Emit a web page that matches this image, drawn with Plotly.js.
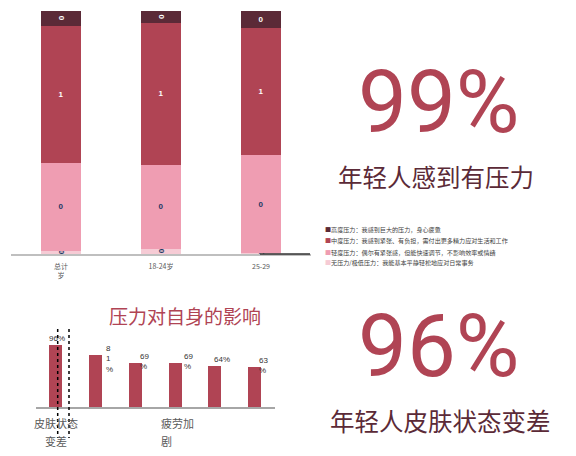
<!DOCTYPE html>
<html>
<head>
<meta charset="utf-8">
<script src="https://cdn.plot.ly/plotly-3.0.1.min.js"></script>
<style>html,body{margin:0;padding:0;background:#fff;}#chart{width:576px;height:456px;}</style>
</head>
<body>
<div id="chart"></div>
<script>
// ---- data ----
const ageGroups = ['总计<br>岁', '18-24岁', '25-29'];
const highStress = [0.060, 0.049, 0.071];
const midStress  = [0.564, 0.583, 0.523];
const lowStress  = [0.362, 0.346, 0.401];
const noStress   = [0.014, 0.022, 0.005];
const stressNames = [
  '高度压力：我感到巨大的压力，身心疲惫',
  '中度压力：我感到紧张、有负担，需付出更多精力应对生活和工作',
  '轻度压力：偶尔有紧张感，但能快速调节，不影响效率或情绪',
  '无压力/极低压力：我能基本平静轻松地应对日常事务'
];
const impactIndex = [0, 1, 2, 3, 4, 5];
const impactValues = [0.96, 0.81, 0.69, 0.69, 0.64, 0.63];
const impactLabels = ['96%', '8<br>1<br>%', '69<br>%', '69<br>%', '64%', '63<br>%'];
const impactTicks = ['皮肤状态<br>变差', '', '', '疲劳加<br>剧', '', ''];
const impactTitle = '压力对自身的影响';
const bigStats = ['99%', '96%'];
const bigCaptions = ['年轻人感到有压力', '年轻人皮肤状态变差'];

// ---- styling ----
const W = 576, H = 456;
const px = v => v / W;
const py = v => 1 - v / H;
const cDark = '#5b2a37', cRed = '#b04454', cPink = '#ef9db2', cLight = '#f6cbd5';
const cjk = '"Noto Sans CJK SC", sans-serif';
const lat = '"Liberation Sans", Arial, sans-serif';

function stackTrace(name, y, color, txtColor) {
  return {
    type: 'bar', name: name, x: ageGroups, y: y,
    marker: {color: color, line: {width: 0}},
    texttemplate: '%{y:.0f}', textposition: 'inside', insidetextanchor: 'middle',
    constraintext: 'none', cliponaxis: false,
    textfont: {family: lat, size: 8, color: txtColor, weight: 'bold'},
    width: 0.4, xaxis: 'x', yaxis: 'y', hoverinfo: 'skip'
  };
}

const data = [
  stackTrace(stressNames[3], noStress, cLight, '#203864'),
  stackTrace(stressNames[2], lowStress, cPink, '#203864'),
  stackTrace(stressNames[1], midStress, cRed, '#ffffff'),
  stackTrace(stressNames[0], highStress, cDark, '#ffffff'),
  {
    type: 'bar', x: impactIndex, y: impactValues, width: 0.33,
    marker: {color: cRed, line: {width: 0}},
    xaxis: 'x2', yaxis: 'y2', hoverinfo: 'skip'
  }
];

const annotations = [];
// legend as text rows
const legendColors = [cDark, cRed, cPink, cLight];
const legendY = [229.3, 240.7, 252, 262.7];
stressNames.forEach((n, i) => {
  annotations.push({
    xref: 'paper', yref: 'paper', x: px(323), y: py(legendY[i]),
    xanchor: 'left', yanchor: 'middle', showarrow: false,
    text: '<span style="color:' + legendColors[i] + '">■</span>' + n,
    font: {family: cjk, size: 6.1, color: '#404040'}
  });
});
// bottom chart title
annotations.push({
  xref: 'paper', yref: 'paper', x: px(185), y: py(315), xanchor: 'center', yanchor: 'middle',
  showarrow: false, text: impactTitle, font: {family: cjk, size: 19, color: cRed}
});
// value labels on impact bars
const labelShift = [-9, 8.7, 3, 6.7, -3, 2];
impactValues.forEach((v, i) => {
  annotations.push({
    xref: 'x2', yref: 'y2', x: impactIndex[i], y: v, xanchor: 'left', yanchor: 'top',
    xshift: labelShift[i], yshift: 13, showarrow: false, align: 'left',
    text: impactLabels[i], font: {family: lat, size: 8, color: '#333333'}
  });
});
// category labels of the impact chart (one annotation per line)
const catFont = 11, catLineY = [423, 440.5];
const catAlign = ['center', 'center', 'center', 'left', 'center', 'center'];
impactTicks.forEach((t, i) => {
  if (!t) return;
  const lines = t.split('<br>');
  const halfW = lines[0].length * catFont / 2;
  lines.forEach((ln, k) => {
    const left = catAlign[i] === 'left';
    annotations.push({
      xref: 'x2', yref: 'paper', x: impactIndex[i], y: py(catLineY[k]),
      xanchor: left ? 'left' : 'center', xshift: left ? -halfW : 0, yanchor: 'middle',
      showarrow: false, text: ln, font: {family: cjk, size: catFont, color: '#595959'}
    });
  });
});
// big stats
const statY = [102, 346], capY = [176, 420], statX = [438.5, 439], capX = [436, 440];
bigStats.forEach((s, i) => {
  annotations.push({
    xref: 'paper', yref: 'paper', x: px(statX[i]), y: py(statY[i]), xanchor: 'center', yanchor: 'middle',
    showarrow: false, text: s, font: {family: 'Roboto, sans-serif', size: 87, color: cRed}
  });
  annotations.push({
    xref: 'paper', yref: 'paper', x: px(capX[i]), y: py(capY[i]), xanchor: 'center', yanchor: 'middle',
    showarrow: false, text: bigCaptions[i], font: {family: cjk, size: 24.5, color: cDark}
  });
});

const shapes = [
  {type: 'line', xref: 'paper', yref: 'paper', x0: px(260), x1: px(310), y0: py(254), y1: py(254),
   line: {color: '#333333', width: 1.5}},
  {type: 'line', xref: 'paper', yref: 'paper', x0: px(57.7), x1: px(57.7), y0: py(329), y1: py(438),
   line: {color: '#000000', width: 1.5, dash: 'dot'}},
  {type: 'line', xref: 'paper', yref: 'paper', x0: px(69), x1: px(69), y0: py(329), y1: py(438),
   line: {color: '#000000', width: 1.5, dash: 'dot'}}
];

const layout = {
  width: W, height: H, margin: {l: 0, r: 0, t: 0, b: 0},
  paper_bgcolor: '#ffffff', plot_bgcolor: 'rgba(0,0,0,0)',
  barmode: 'stack', showlegend: false,
  xaxis: {domain: [px(11), px(311)], type: 'category', range: [-0.5, 2.5],
    showline: true, linecolor: '#bfbfbf', linewidth: 1.5, showgrid: false, zeroline: false,
    ticks: '', ticklabelstandoff: 5, tickfont: {family: cjk, size: 7, color: '#595959'}, fixedrange: true},
  yaxis: {domain: [py(254), py(11)], range: [0, 1], visible: false, fixedrange: true},
  xaxis2: {domain: [px(35.8), px(274.6)], anchor: 'y2', range: [-0.5, 5.5],
    showticklabels: false,
    showline: true, linecolor: '#a6a6a6', linewidth: 1.5, showgrid: false, zeroline: false,
    ticks: '', fixedrange: true},
  yaxis2: {domain: [py(407.3), py(329.8)], anchor: 'x2', range: [0, 1.2], visible: false, fixedrange: true},
  annotations: annotations,
  shapes: shapes
};

Plotly.newPlot('chart', data, layout, {displayModeBar: false, staticPlot: true});
</script>
</body>
</html>
